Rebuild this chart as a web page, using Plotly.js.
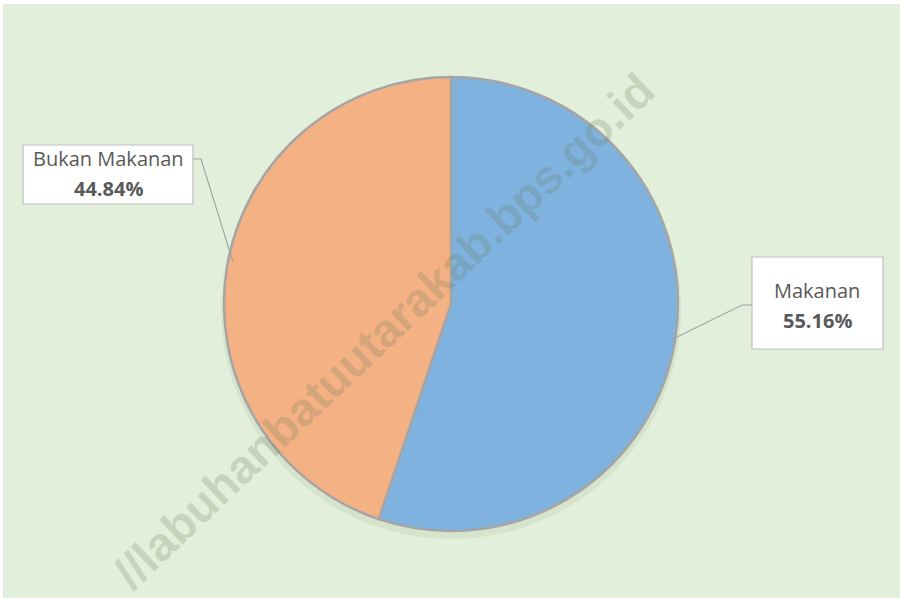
<!DOCTYPE html>
<html>
<head>
<meta charset="utf-8">
<script src="https://cdn.plot.ly/plotly-3.0.1.min.js"></script>
<style>html,body{margin:0;padding:0;background:#fff;}#chart{width:900px;height:598px;}</style>
</head>
<body>
<div id="chart"></div>
<script>
const categories = ["Makanan", "Bukan Makanan"];
const shares = [55.16, 44.84];
const sliceColors = ["#7FB2DF", "#F4B183"];
const labelNames = ["Makanan", "Bukan Makanan"];
const labelValues = ["55.16%", "44.84%"];
const watermark = "//labuhanbatuutarakab.bps.go.id";

const W = 900, H = 598;
const px = x => x / W;
const py = y => 1 - y / H;

const cx = 451, cy = 304, r = 227;

const shadow = {
  type: "pie",
  labels: categories,
  values: shares,
  sort: false,
  direction: "clockwise",
  textinfo: "none",
  hoverinfo: "skip",
  marker: { colors: ["rgba(60,80,50,0.07)", "rgba(60,80,50,0.07)"], line: { width: 0 } },
  domain: { x: [px(cx - r - 3), px(cx + r + 3)], y: [py(cy + 5 + r + 3), py(cy + 5 - r - 3)] },
  showlegend: false
};

const trace = {
  type: "pie",
  labels: categories,
  values: shares,
  sort: false,
  direction: "clockwise",
  rotation: 0,
  textinfo: "none",
  hoverinfo: "label+percent",
  marker: { colors: sliceColors, line: { color: "#A5A5A5", width: 2.5 } },
  domain: { x: [px(cx - r), px(cx + r)], y: [py(cy + r), py(cy - r)] },
  showlegend: false
};

const txtFont = { family: "Open Sans, Liberation Sans, sans-serif", size: 20, color: "#595959" };

const layout = {
  width: W, height: H,
  margin: { l: 0, r: 0, t: 0, b: 0 },
  paper_bgcolor: "#FFFFFF",
  showlegend: false,
  shapes: [
    { type: "rect", xref: "paper", yref: "paper", x0: px(3), x1: px(900), y0: py(598), y1: py(4),
      fillcolor: "#E2EFDA", line: { width: 0 }, layer: "below" },
    { type: "rect", xref: "paper", yref: "paper", x0: px(23), x1: px(193), y0: py(204), y1: py(145),
      fillcolor: "#FFFFFF", line: { color: "#BFBFBF", width: 1.2 } },
    { type: "rect", xref: "paper", yref: "paper", x0: px(752), x1: px(883), y0: py(349), y1: py(257),
      fillcolor: "#FFFFFF", line: { color: "#BFBFBF", width: 1.2 } },
    { type: "path", xref: "paper", yref: "paper",
      path: `M ${px(193)},${py(159)} L ${px(201)},${py(159)} L ${px(233)},${py(262)}`,
      line: { color: "#A5A5A5", width: 1.2 } },
    { type: "path", xref: "paper", yref: "paper",
      path: `M ${px(752)},${py(305)} L ${px(742)},${py(305)} L ${px(673)},${py(339)}`,
      line: { color: "#A5A5A5", width: 1.2 } }
  ],
  annotations: [
    { xref: "paper", yref: "paper", x: px(108), y: py(158), text: labelNames[1], showarrow: false,
      font: txtFont, xanchor: "center", yanchor: "middle" },
    { xref: "paper", yref: "paper", x: px(108), y: py(188), text: "<b>" + labelValues[1] + "</b>", showarrow: false,
      font: txtFont, xanchor: "center", yanchor: "middle" },
    { xref: "paper", yref: "paper", x: px(817), y: py(290), text: labelNames[0], showarrow: false,
      font: txtFont, xanchor: "center", yanchor: "middle" },
    { xref: "paper", yref: "paper", x: px(817), y: py(320), text: "<b>" + labelValues[0] + "</b>", showarrow: false,
      font: txtFont, xanchor: "center", yanchor: "middle" },
    { xref: "paper", yref: "paper", x: px(383), y: py(331), text: "<b>" + watermark + "</b>",
      showarrow: false, textangle: -43.5, xanchor: "center", yanchor: "middle",
      font: { family: "Liberation Sans, Arial, sans-serif", size: 47, color: "rgba(100,120,90,0.22)" } }
  ]
};

Plotly.newPlot("chart", [shadow, trace], layout, { displayModeBar: false, staticPlot: true });
</script>
</body>
</html>
